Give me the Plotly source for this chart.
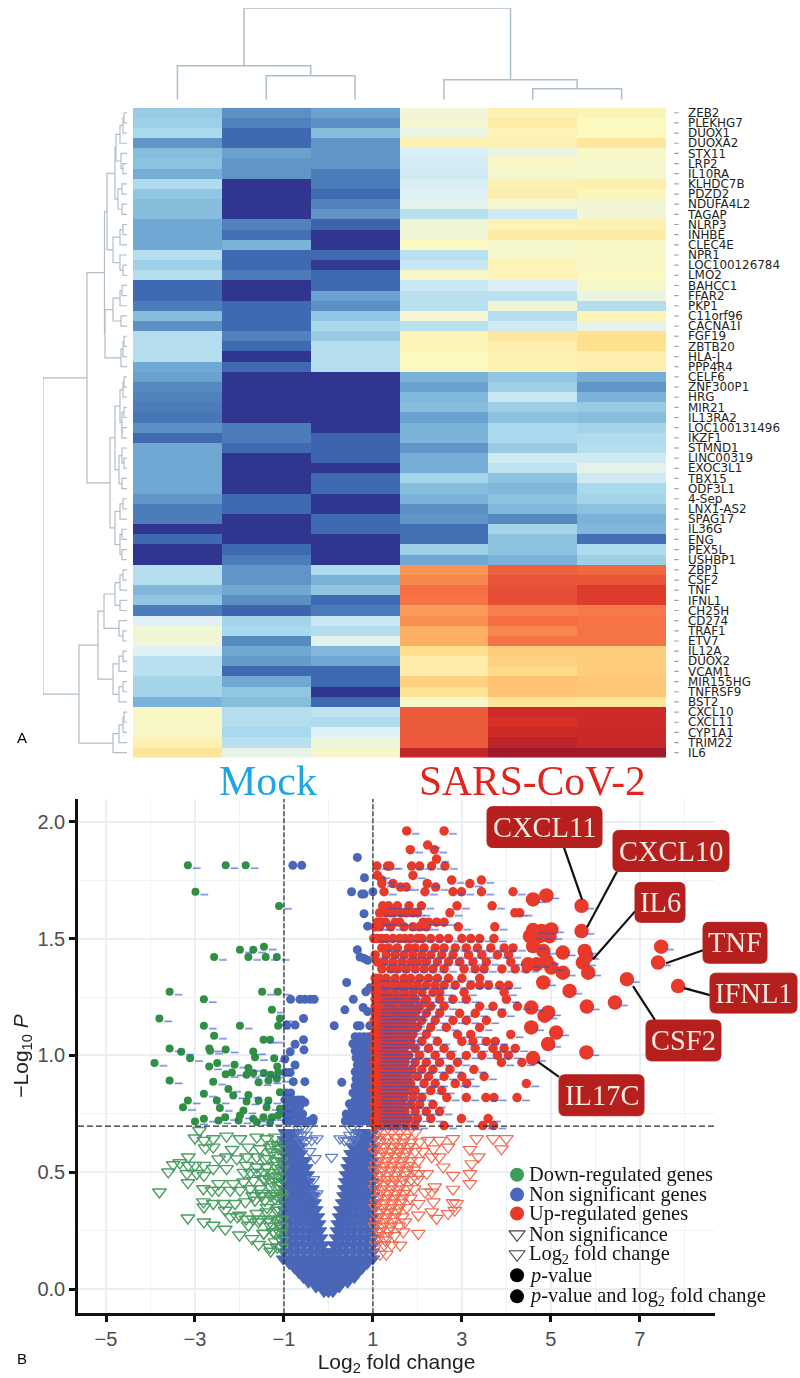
import plotly.graph_objects as go

# ---------- heatmap data ----------
GENES = ["ZEB2","PLEKHG7","DUOX1","DUOXA2","STX11","LRP2","IL10RA","KLHDC7B","PDZD2","NDUFA4L2","TAGAP","NLRP3","INHBE","CLEC4E","NPR1","LOC100126784","LMO2","BAHCC1","FFAR2","PKP1","C11orf96","CACNA1I","FGF19","ZBTB20","HLA-J","PPP4R4","CELF6","ZNF300P1","HRG","MIR21","IL13RA2","LOC100131496","IKZF1","STMND1","LINC00319","EXOC3L1","TBX15","ODF3L1","4-Sep","LNX1-AS2","SPAG17","IL36G","ENG","PEX5L","USHBP1","ZBP1","CSF2","TNF","IFNL1","CH25H","CD274","TRAF1","ETV7","IL12A","DUOX2","VCAM1","MIR155HG","TNFRSF9","BST2","CXCL10","CXCL11","CYP1A1","TRIM22","IL6"]
MOCK1 = [2.7,2.8,3.0,1.7,2.4,2.5,2.1,3.1,2.6,2.4,2.4,2.0,2.0,2.0,3.2,2.8,3.2,1.0,1.0,1.3,2.4,1.6,3.2,3.2,3.2,2.0,1.9,1.5,1.4,1.3,1.2,1.6,1.0,2.0,2.0,2.0,2.0,2.0,1.7,1.3,1.3,0,1.0,0,0,3.2,3.2,2.3,2.6,1.3,4.0,4.6,4.6,4.0,3.3,3.3,2.9,2.9,2.2,4.9,4.9,4.9,5.3,5.8]
MOCK2 = [1.6,1.4,1.0,1.0,1.9,1.7,1.7,0,0,0,0,1.4,1.1,2.2,1.0,1.0,1.3,0,0,1.0,1.0,1.0,1.4,1.0,0,1.0,0,0,0,0,0,1.3,1.3,1.0,0,0,0,0,1.0,1.0,0,0,0,1.0,1.3,1.7,1.7,2.0,1.6,0.9,2.9,3.0,1.5,2.0,1.8,1.0,2.0,2.6,2.4,3.2,3.2,3.0,3.3,4.3]
MOCK3 = [1.9,1.6,2.4,1.7,1.7,1.7,1.3,1.3,1.0,1.4,1.7,0.9,0,0,1.0,0.1,1.0,1.0,1.9,1.6,2.6,3.0,2.7,3.2,3.2,3.2,0,0,0,0,0,0,0.9,0.9,0.9,0,1.0,1.0,0,0,1.0,1.0,0,0,0,3.1,2.2,2.6,1.0,1.3,3.6,3.2,4.1,2.3,2.0,1.0,1.0,0,1.0,3.4,3.1,4.0,4.5,4.8]
SARS1 = [4.6,4.7,4.4,5.3,3.9,3.8,3.7,3.9,4.0,4.2,3.3,4.6,4.6,5.0,3.3,3.6,4.8,3.6,3.3,3.3,4.7,3.3,5.2,5.2,5.0,5.0,2.2,1.9,2.3,2.4,1.9,2.2,2.2,1.7,2.1,2.1,2.9,2.4,2.2,1.6,1.7,1.1,1.1,2.8,2.0,7.4,7.6,8.0,7.9,7.3,7.5,7.0,7.0,6.0,5.5,5.5,6.3,5.9,4.8,8.3,8.3,8.3,8.3,9.4]
SARS2 = [5.3,5.5,5.2,5.3,4.4,4.9,4.7,5.3,5.4,4.7,3.7,5.2,5.6,4.8,4.8,5.2,5.2,3.9,3.3,4.6,3.2,3.7,5.7,5.4,5.3,5.3,2.6,2.8,3.6,2.8,2.5,3.0,3.0,2.7,3.7,3.4,2.5,2.3,2.5,2.3,1.5,2.9,2.5,2.5,2.2,8.2,8.4,8.5,8.5,7.7,8.0,7.6,7.9,6.4,6.3,6.1,6.6,6.6,5.8,9.2,9.0,9.2,9.5,10]
SARS3 = [5.2,5.0,5.0,5.7,4.9,4.8,4.8,5.4,5.1,4.6,4.7,5.3,5.6,4.9,4.9,4.9,5.0,4.8,4.4,3.2,5.2,4.3,6.0,6.0,5.4,5.4,2.1,1.7,2.2,2.7,2.4,2.9,3.1,3.2,3.7,4.2,3.7,3.0,2.9,2.5,2.2,2.3,1.1,3.1,2.8,8.1,8.4,8.8,8.8,7.8,7.9,7.9,7.9,6.4,6.4,6.4,6.5,6.5,5.8,9.2,9.2,9.3,9.3,10]

# dendrograms: (merge height, left child, right child); a plain int is a leaf
COL_TREE = (92, (34, 0, (24, 1, 2)), (20, 3, (11, 4, 5)))
_r0_6 = (11, (7, (4, (3, 0, 1), 2), 3), (6, 4, (4, 5, 6)))
_r0_10 = (12, _r0_6, (9, (5, 7, 8), (5, 9, 10)))
_r11_16 = (14, (7, (4, 11, 12), 13), (7, 14, (4, 15, 16)))
_r0_16 = (20, _r0_10, _r11_16)
_r17_25 = (22, (14, (7, (5, 17, 18), 19), (6, 20, 21)), (6, (4, (3, 22, 23), 24), 25))
_r26_37 = (12, (7, (4, (3, 26, 27), 28), (5, (3, 29, 30), (5, 31, 32))), (8, (5, 33, (3, 34, 35)), (5, 36, 37)))
_r38_44 = (12, (7, (4, 38, 39), 40), (7, (5, 41, 42), (5, 43, 44)))
_r45_52 = (23, (12, (7, (4, 45, 46), 47), (7, 48, 49)), (8, 50, (4, 51, 52)))
_r53_58 = (14, (8, (4, 53, 54), 55), (8, (4, 56, 57), 58))
_r59_63 = (14, (8, (4, (3, 59, 60), 61), 62), 63)
ROW_TREE = (84, (40, (22.5, _r0_16, _r17_25), (17, _r26_37, _r38_44)), (48, (29, _r45_52, _r53_58), _r59_63))

# ---------- volcano data (-log10 P : log2 FC values on that level) ----------
UP_SIG = [
 (1.96,[1.76,2.60]),(1.90,[2.23]),(1.88,[1.84,2.38]),(1.84,[2.43]),(1.81,[1.09,1.33,1.38,1.87,2.05,2.32,2.62]),
 (1.77,[1.10,1.90]),(1.75,[1.20,2.77,3.44]),(1.735,[1.20,1.45,2.22,3.18]),(1.72,[1.62,1.75,2.41]),
 (1.70,[1.25,2.17,2.80,2.99,3.44,4.15]),(1.64,[1.22,1.35,1.55,1.81,2.09,2.89,3.68]),
 (1.61,[1.15,1.30,1.38,1.45,1.64,1.75,1.90,2.00,2.73,4.19,4.30]),
 (1.57,[1.10,1.20,1.28,1.50,1.60,2.13,2.25,2.43,2.60]),(1.55,[1.05,1.15,1.40,1.70,1.90,2.05,2.20,2.92,3.74]),
 (1.50,[1.02,1.10,1.20,1.30,1.45,1.60,1.72,1.85,2.00,2.10,2.30,2.50,2.70,3.00,3.20,3.40,3.72]),
 (1.46,[1.20,1.35,1.55,1.80,1.95,2.15,2.40,2.60,2.85,3.10,3.35,3.65,3.95,4.15]),
 (1.43,[1.05,1.30,1.50,1.70,1.90,2.10,2.30,2.55,2.80,3.15,3.45,3.80,4.05]),
 (1.40,[1.10,1.25,1.45,1.65,1.85,2.00,2.20,2.45,2.70,2.95,3.25,3.55,4.10]),
 (1.37,[1.20,1.40,1.55,1.75,1.95,2.15,2.35,2.60,3.05,3.30,3.50,3.90,4.20,4.45]),
 (1.33,[1.05,1.15,1.30,1.50,1.70,1.85,2.05,2.25,2.45,2.70,3.00,3.40]),
 (1.30,[1.05,1.25,1.40,1.60,1.80,2.00,2.20,2.40,2.60,2.85,3.20,3.40,3.60,3.85,4.05]),
 (1.27,[1.05,1.15,1.30,1.50,1.70,1.90,2.10,2.35,2.50,3.05,3.95]),
 (1.24,[1.05,1.20,1.35,1.45,1.60,1.75,1.95,2.20,2.50,2.80,3.10,4.00]),
 (1.21,[1.05,1.15,1.30,1.40,1.55,1.70,1.85,2.05,2.30,2.60,3.40,3.70,4.25]),
 (1.18,[1.05,1.12,1.20,1.30,1.42,1.55,1.70,1.90,2.20,2.50,2.95,3.30,3.90]),
 (1.15,[1.03,1.10,1.18,1.26,1.35,1.50,1.62,1.80,2.10,2.40,2.80,3.10,3.55]),
 (1.12,[1.05,1.13,1.22,1.32,1.45,1.60,1.75,2.00,2.30,2.65,3.40]),
 (1.09,[1.03,1.10,1.18,1.28,1.40,1.52,1.68,1.90,2.20,2.90,3.20,4.10]),
 (1.06,[1.05,1.14,1.25,1.38,1.50,1.65,1.85,2.10,2.45,3.00,3.25,3.55,3.75]),
 (1.03,[1.03,1.10,1.20,1.30,1.42,1.55,1.70,1.95,2.25,2.60,3.30,3.70,3.95,4.20]),
 (1.00,[1.05,1.15,1.25,1.35,1.50,1.62,1.80,2.05,2.40,2.75,3.10,3.45,3.80,4.05]),
 (0.97,[1.03,1.10,1.20,1.32,1.45,1.58,1.72,1.95,2.20,2.50,2.90,3.89,4.35]),
 (0.94,[1.05,1.15,1.28,1.40,1.55,1.70,1.88,2.10,2.35,2.73,3.27]),
 (0.91,[1.03,1.12,1.22,1.35,1.48,1.62,1.80,2.00,2.25,2.60,3.00,3.50]),
 (0.88,[1.05,1.15,1.25,1.38,1.52,1.68,1.85,2.15,2.40,2.85,3.11,4.45]),
 (0.85,[1.03,1.10,1.20,1.32,1.45,1.60,1.78,1.95,2.30,2.55]),
 (0.82,[1.05,1.15,1.28,1.42,1.55,1.70,1.90,2.10,2.66,3.10,3.54,3.72,4.24]),
 (0.79,[1.03,1.12,1.25,1.38,1.50,1.65,1.85,2.05,2.35]),
 (0.76,[1.05,1.15,1.30,1.42,1.58,1.72,1.95,2.20,2.50]),
 (0.73,[1.03,1.12,1.22,1.35,1.50,1.65,1.80,2.00,2.30,2.99,3.59]),
 (0.70,[1.05,1.20,1.40,1.55,1.75,1.95,2.60,3.47,3.71]),
 (1.295,[1.10,1.35,1.52,1.72,1.95]),(1.255,[1.10,1.28,1.42,1.65,1.82]),(1.225,[1.12,1.25,1.48,1.62,1.80,2.15]),
 (1.195,[1.08,1.25,1.35,1.48,1.62,1.78,2.00]),(1.165,[1.07,1.22,1.32,1.42,1.56,1.72,1.95]),
 (1.135,[1.08,1.17,1.27,1.38,1.52,1.68,1.88]),(1.105,[1.06,1.15,1.24,1.35,1.48,1.60,1.80]),
 (1.075,[1.08,1.20,1.32,1.44,1.58,1.75]),(1.045,[1.07,1.16,1.27,1.36,1.48,1.62,1.78]),
 (1.015,[1.08,1.18,1.27,1.38,1.50,1.65]),(0.985,[1.07,1.16,1.28,1.40,1.52,1.66]),(0.955,[1.08,1.20,1.34,1.48,1.62]),
 (0.925,[1.08,1.17,1.30,1.42,1.56]),(0.895,[1.08,1.20,1.32,1.45,1.60]),(0.865,[1.07,1.15,1.27,1.38,1.52]),
 (0.835,[1.08,1.20,1.35,1.48]),(0.805,[1.08,1.18,1.32,1.45,1.60]),(0.775,[1.08,1.20,1.35,1.50]),
 (0.745,[1.08,1.18,1.28,1.45,1.58]),(0.715,[1.10,1.25,1.35,1.48]),
]
UP_BIG_X = [4.60,4.90,5.69,4.60,4.79,5.01,5.69,4.53,4.75,4.97,4.60,4.83,5.27,5.76,5.80,5.72,4.49,4.68,4.90,5.01,5.27,5.84,4.83,5.42,5.81,6.44,6.71,7.48,7.41,7.86,4.56,4.94,4.56,4.86,5.12,4.94,5.80,4.60]
UP_BIG_Y = [1.667,1.684,1.64,1.536,1.532,1.539,1.532,1.51,1.51,1.51,1.468,1.447,1.44,1.447,1.425,1.397,1.39,1.39,1.404,1.376,1.354,1.354,1.312,1.276,1.209,1.226,1.326,1.465,1.397,1.297,1.205,1.184,1.12,1.17,1.098,1.049,1.013,0.989]

DOWN_SIG_X = [-3.16,-2.31,-1.86,-2.99,-1.11,-1.99,-1.69,-1.45,-1.41,-1.80,-2.57,-1.16,-3.57,-1.49,-1.14,-2.80,-1.27,-3.80,-1.09,-2.80,-1.99,-1.13,-2.57,-1.46,-1.31,-3.57,-3.31,-2.68,-2.66,-2.31,-1.69,-1.65,-1.22,-3.11,-3.91,-2.68,-2.50,-2.11,-1.80,-1.15,-2.31,-2.17,-1.84,-1.69,-1.45,-1.30,-1.13,-3.57,-2.59,-1.57,-1.35,-1.16,-2.25,-2.80,-2.51,-2.14,-1.80,-1.84,-1.57,-1.35,-1.09,-3.16,-3.27,-2.44,-1.39,-1.09,-1.91,-1.99,-2.32,-2.47,-2.80,-3.00,-2.02,-1.69,-1.46,-1.27,-1.13,-1.61,-1.31]
DOWN_SIG_Y = [1.813,1.813,1.813,1.70,1.639,1.452,1.452,1.465,1.421,1.421,1.421,1.421,1.272,1.272,1.272,1.24,1.195,1.158,1.158,1.127,1.127,1.127,1.084,1.067,1.067,1.03,1.016,1.03,1.02,1.025,1.017,0.992,0.988,0.988,0.968,0.953,0.968,0.96,0.946,0.953,0.92,0.927,0.918,0.925,0.925,0.918,0.927,0.893,0.888,0.885,0.893,0.90,0.857,0.836,0.807,0.829,0.831,0.803,0.807,0.807,0.843,0.807,0.779,0.775,0.779,0.772,0.765,0.743,0.736,0.722,0.729,0.718,0.722,0.729,0.736,0.736,0.743,0.715,0.715]

NS_SIG_X = [-0.80,-0.60,0.65,0.81,0.52,0.75,0.80,1.0,0.80,0.88,0.65,0.71,0.80,0.88,0.41,0.93,0.84,0.56,-0.85,-0.64,-0.53,-0.41,-0.32,0.37,0.78,0.88,-0.56,-0.94,-0.75,0.13,0.65,0.71,0.93,1.0,-0.56,-0.75,-0.55,-0.86,-0.98,-0.75,-0.97,-0.86,-0.79,-0.53,0.30,0.47,-0.53,-0.34,0.41]
NS_SIG_Y = [1.813,1.813,1.847,1.76,1.70,1.69,1.69,1.70,1.606,1.553,1.452,1.421,1.415,1.407,1.312,1.29,1.272,1.24,1.24,1.24,1.24,1.24,1.24,1.195,1.205,1.188,1.158,1.13,1.13,1.127,1.127,1.127,1.127,1.127,1.067,1.048,1.024,1.016,0.985,0.959,0.927,0.927,0.888,0.888,0.885,0.793,0.80,0.73,0.73]
NS_SIG_ROWS = [
 (1.08,[0.60,0.70,0.80,0.90]),(1.05,[0.55,0.65,0.75,0.85,0.95]),(1.02,[0.60,0.70,0.80,0.90,0.98]),
 (0.99,[0.62,0.72,0.82,0.92]),(0.96,[0.65,0.75,0.85,0.95]),(0.93,[0.60,0.70,0.80,0.90,0.98]),
 (0.90,[0.62,0.72,0.82,0.92]),(0.87,[0.60,0.68,0.78,0.88,0.98]),(0.84,[-0.95,-0.85,0.55,0.65,0.75,0.85,0.95]),
 (0.81,[-0.98,-0.88,-0.78,-0.68,-0.60,0.60,0.70,0.80,0.90]),(0.78,[-0.95,-0.85,-0.75,-0.65,0.52,0.62,0.72,0.82,0.92]),
 (0.75,[-0.98,-0.88,-0.78,-0.68,-0.58,0.40,0.50,0.60,0.70,0.80,0.90,0.98]),
 (0.72,[-0.95,-0.85,-0.75,-0.65,-0.55,-0.42,-0.35,0.38,0.48,0.58,0.68,0.78,0.88,0.98]),
]
NS_DENSE = [
 (-0.01,[-0.10,0.0,0.10]),(0.01,[-0.28,-0.15,-0.03,0.10,0.24]),(0.03,[-0.45,-0.30,-0.15,0.0,0.15,0.30,0.43]),
 (0.05,[-0.56,-0.42,-0.27,-0.12,0.02,0.17,0.32,0.46,0.58]),(0.07,[-0.66,-0.52,-0.37,-0.22,-0.08,0.08,0.23,0.38,0.52,0.66]),
 (0.09,[-0.76,-0.62,-0.48,-0.33,-0.18,-0.04,0.10,0.25,0.40,0.55,0.68,0.76]),
 (0.11,[-0.88,-0.76,-0.60,-0.45,-0.30,-0.15,0.0,0.15,0.30,0.45,0.60,0.74,0.87]),
 (0.13,[-1.02,-0.90,-0.75,-0.60,-0.45,-0.30,-0.15,0.0,0.15,0.30,0.45,0.60,0.75,0.88,1.0]),
 (0.16,[-1.0,-0.85,-0.70,-0.55,-0.40,-0.25,-0.12,0.0,0.12,0.25,0.40,0.55,0.70,0.85,1.0]),
 (0.19,[-1.0,-0.85,-0.70,-0.55,-0.40,-0.25,-0.12,0.12,0.25,0.40,0.55,0.70,0.85,1.0]),
 (0.22,[-1.0,-0.86,-0.72,-0.58,-0.44,-0.30,-0.17,0.17,0.30,0.44,0.58,0.72,0.86,1.0]),
 (0.25,[-1.0,-0.86,-0.72,-0.58,-0.44,-0.30,-0.19,0.19,0.30,0.44,0.58,0.72,0.86,1.0]),
 (0.28,[-1.0,-0.86,-0.72,-0.58,-0.44,-0.31,-0.21,0.21,0.31,0.44,0.58,0.72,0.86,1.0]),
 (0.31,[-1.0,-0.87,-0.74,-0.61,-0.48,-0.35,-0.24,0.24,0.35,0.48,0.61,0.74,0.87,1.0]),
 (0.34,[-1.0,-0.87,-0.74,-0.61,-0.48,-0.36,-0.28,0.27,0.36,0.48,0.61,0.74,0.87,1.0]),
 (0.37,[-1.0,-0.87,-0.74,-0.61,-0.48,-0.37,-0.31,0.31,0.37,0.48,0.61,0.74,0.87,1.0]),
 (0.40,[-1.0,-0.88,-0.76,-0.64,-0.52,-0.42,-0.34,0.34,0.42,0.52,0.64,0.76,0.88,1.0]),
 (0.43,[-1.0,-0.88,-0.76,-0.64,-0.52,-0.43,-0.36,0.36,0.43,0.52,0.64,0.76,0.88,1.0]),
 (0.46,[-1.0,-0.88,-0.76,-0.64,-0.54,-0.45,0.38,0.45,0.54,0.64,0.76,0.88,1.0]),
 (0.49,[-1.0,-0.88,-0.76,-0.65,-0.56,-0.47,0.40,0.47,0.56,0.65,0.76,0.88,1.0]),
 (0.52,[-1.0,-0.89,-0.78,-0.68,-0.59,-0.50,0.43,0.50,0.59,0.68,0.78,0.89,1.0]),
 (0.55,[-1.0,-0.89,-0.78,-0.68,-0.60,-0.53,0.46,0.54,0.62,0.70,0.79,0.89,1.0]),
 (0.58,[-1.0,-0.90,-0.80,-0.71,-0.62,0.50,0.58,0.66,0.74,0.82,0.91,1.0]),
 (0.61,[-1.0,-0.90,-0.80,-0.72,-0.64,0.54,0.62,0.70,0.78,0.86,0.94,1.0]),
 (0.64,[-1.0,-0.91,-0.82,-0.74,-0.66,0.60,0.68,0.76,0.84,0.92,1.0]),
 (0.67,[-0.98,-0.90,-0.82,-0.74,0.68,0.76,0.84,0.92,1.0]),
]
NS_TOP_X = [-0.66,-0.58,-0.50,-0.38,-0.26,0.26,0.36,0.50,0.58,-0.60,-0.50,0.48,0.60,-0.62,-0.50,-0.30,0.07,-0.26,-0.42,-0.34,0.44,0.56]
NS_TOP_Y = [0.685,0.685,0.685,0.637,0.644,0.644,0.637,0.685,0.685,0.66,0.66,0.66,0.66,0.635,0.635,0.56,0.565,0.409,0.59,0.47,0.635,0.635]

DOWN_NS_X = [-2.9,-3.0,-2.8,-2.59,-2.29,-1.99,-1.61,-1.39,-1.2,-2.77,-2.59,-2.17,-1.8,-1.54,-1.31,-1.13,-3.15,-3.49,-3.6,-3.34,-3.15,-3.0,-2.8,-2.59,-2.47,-2.29,-2.06,-1.84,-1.61,-1.43,-1.27,-1.13,-3.18,-2.96,-2.8,-2.29,-1.84,-1.61,-1.39,-1.2,-1.05,-3.16,-2.47,-2.14,-1.91,-1.69,-1.46,-1.27,-1.13,-3.8,-2.81,-2.62,-2.47,-2.21,-1.99,-1.76,-1.54,-1.31,-1.13,-2.81,-2.59,-2.36,-2.1,-1.87,-1.65,-1.43,-1.2,-1.05,-2.8,-2.32,-2.0,-1.61,-1.39,-1.16,-3.16,-2.8,-2.59,-2.32,-1.8,-1.57,-1.31,-1.13,-2.0,-1.72,-1.46,-1.24,-1.05,-1.57,-1.3,-1.2,-1.05,-1.7,-1.5,-1.3,-1.15,-1.9,-1.75,-1.6,-1.45,-1.25,-1.1,-2.2,-2.05,-1.85,-1.7,-1.55,-1.35,-1.2,-1.05,-1.25,-1.12,-1.35,-1.18,-1.06,-1.42,-1.28,-1.1,-1.5,-1.22,-1.08,-1.38,-1.14,-1.3,-1.07,-1.45,-1.2,-1.08,-1.32,-1.15,-1.06]
DOWN_NS_Y = [0.679,0.647,0.637,0.644,0.655,0.644,0.651,0.644,0.651,0.604,0.608,0.598,0.608,0.601,0.608,0.615,0.566,0.533,0.502,0.541,0.53,0.53,0.53,0.516,0.558,0.566,0.558,0.566,0.566,0.558,0.587,0.573,0.495,0.495,0.487,0.516,0.53,0.523,0.523,0.53,0.516,0.456,0.452,0.452,0.459,0.466,0.473,0.48,0.487,0.416,0.43,0.423,0.423,0.423,0.423,0.43,0.43,0.438,0.445,0.374,0.367,0.367,0.367,0.374,0.381,0.381,0.388,0.395,0.352,0.338,0.317,0.324,0.331,0.338,0.305,0.288,0.274,0.257,0.274,0.288,0.288,0.295,0.232,0.217,0.239,0.246,0.26,0.192,0.163,0.203,0.21,0.40,0.40,0.40,0.40,0.50,0.50,0.50,0.50,0.50,0.50,0.31,0.31,0.30,0.30,0.30,0.30,0.30,0.30,0.62,0.60,0.56,0.55,0.55,0.47,0.46,0.46,0.41,0.41,0.41,0.35,0.35,0.27,0.27,0.24,0.24,0.24,0.18,0.18,0.18]

UP_NS_X = [2.8,3.33,3.70,4.0,3.89,3.18,2.69,2.36,2.5,2.24,3.37,3.22,2.32,2.58,2.49,2.8,3.18,3.18,2.21,2.02,2.8,2.39,2.32,2.17,2.88,2.8,2.36,2.02,2.69,2.84,2.43,2.32,2.02,2.02,1.72,1.68,1.61]
UP_NS_Y = [0.644,0.644,0.644,0.644,0.601,0.598,0.608,0.601,0.637,0.637,0.566,0.537,0.566,0.523,0.566,0.487,0.495,0.452,0.495,0.495,0.428,0.438,0.416,0.416,0.367,0.371,0.374,0.367,0.324,0.338,0.303,0.331,0.317,0.239,0.288,0.246,0.189]
UP_NS_ROWS = [
 (0.67,[1.08,1.25,1.42,1.60,1.78,1.95]),(0.63,[1.15,1.32,1.50,1.68,1.85,2.05]),(0.59,[1.05,1.22,1.40,1.58,1.76,1.95,2.12]),
 (0.55,[1.12,1.30,1.48,1.66,1.84,2.02]),(0.51,[1.05,1.22,1.40,1.58,1.76,1.92]),(0.47,[1.14,1.32,1.50,1.68,1.86,2.0]),
 (0.43,[1.05,1.22,1.40,1.58,1.76,1.92]),(0.39,[1.12,1.30,1.48,1.66,1.84]),(0.35,[1.05,1.22,1.40,1.58,1.76]),
 (0.31,[1.12,1.30,1.48,1.66]),(0.27,[1.05,1.22,1.40,1.58]),(0.23,[1.12,1.30,1.48]),(0.19,[1.08,1.25,1.42]),(0.15,[1.16,1.30]),
 (0.65,[1.12,1.30,1.52,1.72]),(0.61,[1.08,1.26,1.46,1.62,1.80]),(0.57,[1.16,1.34,1.52,1.70]),(0.53,[1.08,1.26,1.44,1.62,1.80]),
 (0.49,[1.16,1.34,1.52,1.72]),(0.45,[1.08,1.26,1.44,1.62]),(0.41,[1.16,1.34,1.52,1.70]),(0.37,[1.08,1.26,1.44,1.62]),
 (0.33,[1.16,1.34,1.52]),(0.29,[1.08,1.26,1.44]),(0.25,[1.16,1.34]),(0.21,[1.10,1.28]),
]

LEGEND_LABELS = ["Down-regulated genes","Non significant genes","Up-regulated genes","Non significance",
                 "Log<sub>2</sub> fold change","<i>p</i>-value","<i>p</i>-value and log<sub>2</sub> fold change"]
CALLOUTS = ["CXCL11","CXCL10","IL6","TNF","IFNL1","CSF2","IL17C"]

# ---------- helpers ----------
W, H = 800, 1378
def px(v): return v / W
def py(v): return 1 - v / H
def flat(rows):
    xs, ys = [], []
    for y, vals in rows:
        for v in vals:
            xs.append(v); ys.append(y)
    return xs, ys
def tree_lines(node, a, b):
    if not isinstance(node, tuple):
        return float(node), 0.0
    h, l, r = node
    pl, hl = tree_lines(l, a, b)
    pr, hr = tree_lines(r, a, b)
    a += [pl, pl, pr, pr, None]
    b += [hl, h, h, hr, None]
    return (pl + pr) / 2, h

fig = go.Figure()
SCALE = ["#30358f","#3f69b0","#6fa8d2","#a9d9ec","#dff1f6","#fbf8c0","#fee08f","#fdae61","#f46d43","#d73027","#a0182a"]

# heatmap
z = [list(r) for r in zip(MOCK1, MOCK2, MOCK3, SARS1, SARS2, SARS3)]
fig.add_trace(go.Heatmap(z=z, x=list(range(6)), y=list(range(len(GENES))), zmin=0, zmax=10, showscale=False,
                         colorscale=[[i / 10, c] for i, c in enumerate(SCALE)], xaxis="x", yaxis="y", xgap=0, ygap=0))
# little ticks beside the gene names, in their own narrow axis
fig.add_trace(go.Scatter(x=[0.5] * len(GENES), y=list(range(len(GENES))), mode="markers",
                         marker=dict(symbol="line-ew", size=3.2, line=dict(color="#9aa5ad", width=1.2)),
                         xaxis="x5", yaxis="y3", hoverinfo="skip"))
# dendrograms
cx, ch = [], []
tree_lines(COL_TREE, cx, ch)
fig.add_trace(go.Scatter(x=cx, y=ch, mode="lines", line=dict(color="#aebfca", width=1.5), xaxis="x2", yaxis="y2", hoverinfo="skip"))
rp, rh = [], []
tree_lines(ROW_TREE, rp, rh)
fig.add_trace(go.Scatter(x=rh, y=rp, mode="lines", line=dict(color="#b3bec6", width=1.2), xaxis="x3", yaxis="y3", hoverinfo="skip"))

# volcano
GREEN, BLUE, RED = "#2f8f45", "#4a66b8", "#e8392b"
def vol(x, y, symbol, color, size, lw=0, op=1.0, line=None):
    fig.add_trace(go.Scatter(x=x, y=y, mode="markers", xaxis="x4", yaxis="y4", hoverinfo="skip", opacity=op,
                             marker=dict(symbol=symbol, size=size, color=color, line=dict(color=line or color, width=lw))))
dx, dy = flat(NS_DENSE)
vol(dx, dy, "triangle-down", BLUE, 12, 1)
vol(NS_TOP_X, NS_TOP_Y, "triangle-down-open", "#5f7cc8", 11, 1.2)
vol(DOWN_NS_X, DOWN_NS_Y, "triangle-down-open", "#4c9f63", 12, 1.4)
ux, uy = flat(UP_NS_ROWS)
vol(UP_NS_X + ux, UP_NS_Y + uy, "triangle-down-open", "#f2694f", 12, 1.2)
sx, sy = flat(NS_SIG_ROWS)
vol(NS_SIG_X + sx, NS_SIG_Y + sy, "circle", BLUE, 9)
vol(DOWN_SIG_X, DOWN_SIG_Y, "circle", GREEN, 8)
rx, ry = flat(UP_SIG)
vol(rx, ry, "circle", RED, 9.5)
vol(UP_BIG_X, UP_BIG_Y, "circle", RED, 14.5)
# the tiny (illegible) gene labels that sit beside every significant point
lx = [v + 0.2 for v in rx + DOWN_SIG_X + UP_BIG_X]
ly = [v - 0.012 for v in ry + DOWN_SIG_Y + UP_BIG_Y]
fig.add_trace(go.Scatter(x=lx, y=ly, mode="markers", xaxis="x4", yaxis="y4", hoverinfo="skip", opacity=0.9,
                         marker=dict(symbol="line-ew", size=5.5, line=dict(color="#2f55c8", width=1.2))))
# thresholds
TH_COL = "#2a2a2a"
fig.add_trace(go.Scatter(x=[-5.63, 8.69], y=[0.698, 0.698], mode="lines", xaxis="x4", yaxis="y4", hoverinfo="skip",
                         line=dict(color=TH_COL, width=1.1, dash="6px,3px")))
for v in (-1, 1):
    fig.add_trace(go.Scatter(x=[v, v], y=[-0.102, 2.098], mode="lines", xaxis="x4", yaxis="y4", hoverinfo="skip",
                             line=dict(color=TH_COL, width=1.2, dash="5px,2px")))

# legend glyphs (data coords inside the plot area)
LG_X = 4.24
LG_Y = [0.49, 0.405, 0.324, 0.235, 0.15, 0.06, -0.03]
LG_SYM = ["circle","circle","circle","triangle-down-open","triangle-down-open","circle","circle"]
LG_COL = ["#3c9f55", "#4a66c0", "#e8392b", "#444444", "#444444", "#000000", "#000000"]
for yy, sym, col in zip(LG_Y, LG_SYM, LG_COL):
    vol([LG_X], [yy], sym, col, 14, 1.1 if "open" in sym else 0)

anns = []
for t, x0, y0 in zip(LEGEND_LABELS, [526.5] * 7, [1176, 1196, 1215, 1236, 1256, 1277, 1298]):
    anns.append(dict(text=t, x=px(x0), y=py(y0), xref="paper", yref="paper", xanchor="left", yanchor="middle", showarrow=False,
                     font=dict(family="Liberation Serif", size=20.4, color="#151515")))
anns.append(dict(text="Mock", x=px(268), y=py(781), xref="paper", yref="paper", xanchor="center", yanchor="middle", showarrow=False,
                 font=dict(family="Liberation Serif", size=42, color="#1ea6e2")))
anns.append(dict(text="SARS-CoV-2", x=px(532), y=py(781), xref="paper", yref="paper", xanchor="center", yanchor="middle", showarrow=False,
                 font=dict(family="Liberation Serif", size=41.5, color="#e0241f")))
for t, x0, y0 in (("A", 22, 738), ("B", 22, 1360)):
    anns.append(dict(text=t, x=px(x0), y=py(y0), xref="paper", yref="paper", xanchor="center", yanchor="middle", showarrow=False,
                     font=dict(family="Liberation Sans", size=15, color="#000000")))

# call-out boxes: left, right, top, bottom in page pixels; connector from box edge to its point
BOXES = [(487,602,807,848),(613,729,831,872),(635,685,883,923),(703,767,923,964),(710,797,974,1014),(646,721,1021,1062),(559,644,1076,1117)]
LINKS = [(564,848,582,900),(617,872,587,928),(635,912,593,960),(703,951,666,964),(710,996,684,989),(655,1021,633,987),(559,1078,538,1063)]
shapes = []
for (x1, y1, x2, y2) in LINKS:
    shapes.append(dict(type="line", xref="paper", yref="paper", x0=px(x1), y0=py(y1), x1=px(x2), y1=py(y2),
                       line=dict(color="#111111", width=2.2)))
R = 6
for t, (l, r, top, b) in zip(CALLOUTS, BOXES):
    P = lambda a, c: f"{px(a):.5f},{py(c):.5f}"
    path = (f"M{P(l+R,top)} L{P(r-R,top)} Q{P(r,top)} {P(r,top+R)} L{P(r,b-R)} Q{P(r,b)} {P(r-R,b)} "
            f"L{P(l+R,b)} Q{P(l,b)} {P(l,b-R)} L{P(l,top+R)} Q{P(l,top)} {P(l+R,top)} Z")
    shapes.append(dict(type="path", xref="paper", yref="paper", path=path, fillcolor="#b5201f", line=dict(color="#b5201f", width=1)))
    anns.append(dict(text=t, x=px((l + r) / 2), y=py((top + b) / 2), xref="paper", yref="paper", xanchor="center", yanchor="middle", showarrow=False,
                     font=dict(family="Liberation Serif", size=28.5, color="#f7ebe0")))

HID = dict(visible=False, fixedrange=True)
fig.update_layout(
    width=W, height=H, margin=dict(l=0, r=0, t=0, b=0), paper_bgcolor="white", plot_bgcolor="rgba(0,0,0,0)",
    showlegend=False, annotations=anns, shapes=shapes,
    xaxis=dict(domain=[px(133), px(666)], range=[-0.5, 5.5], anchor="y", visible=False),
    yaxis=dict(domain=[py(758), py(106)], range=[63.5, -0.5], anchor="x", side="right", showgrid=False, zeroline=False, showline=False,
               tickmode="array", tickvals=list(range(len(GENES))), ticktext=GENES, ticks="", ticklabelstandoff=21,
               tickfont=dict(family="DejaVu Sans", size=11.9, color="#1e1e1e")),
    xaxis2=dict(domain=[px(133), px(666)], range=[-0.5, 5.5], anchor="y2", **HID),
    yaxis2=dict(domain=[py(98), py(6)], range=[0, 92], anchor="x2", **HID),
    xaxis3=dict(domain=[px(43), px(127)], range=[84, 0], anchor="y3", **HID),
    yaxis3=dict(domain=[py(758), py(106)], range=[63.5, -0.5], anchor="x3", **HID),
    xaxis5=dict(domain=[px(672), px(681)], range=[0, 1], anchor="y3", **HID),
    xaxis4=dict(domain=[px(78), px(715)], range=[-5.63, 8.69], anchor="y4", tickmode="array", tickvals=[-5, -3, -1, 1, 3, 5, 7],
                ticktext=["\u22125", "\u22123", "\u22121", "1", "3", "5", "7"], ticks="outside", ticklen=6, tickwidth=2.5, tickcolor="#111",
                showline=True, linecolor="#111", linewidth=2.5, zeroline=False, showgrid=True, gridcolor="#e8eff5", gridwidth=1.6,
                tickfont=dict(family="Liberation Sans", size=20, color="#4d4d4d"),
                title=dict(text="Log<sub>2</sub> fold change", standoff=4, font=dict(family="Liberation Sans", size=21, color="#222")),
                minor=dict(tickmode="array", tickvals=[-4, -2, 0, 2, 4, 6, 8], showgrid=True, gridcolor="#eef3f8", gridwidth=1, ticks="")),
    yaxis4=dict(domain=[py(1315), py(799)], range=[-0.102, 2.098], anchor="x4", tickmode="array", tickvals=[0, 0.5, 1, 1.5, 2],
                ticktext=["0.0", "0.5", "1.0", "1.5", "2.0"], ticks="outside", ticklen=6, tickwidth=2.5, tickcolor="#111",
                showline=True, linecolor="#111", linewidth=2.5, zeroline=False, showgrid=True, gridcolor="#e8eff5", gridwidth=2,
                tickfont=dict(family="Liberation Sans", size=20, color="#4d4d4d"),
                title=dict(text="\u2212Log<sub>10</sub> <i>P</i>", standoff=4, font=dict(family="Liberation Sans", size=21, color="#222")),
                minor=dict(tickmode="array", tickvals=[0.25, 0.75, 1.25, 1.75], showgrid=True, gridcolor="#eef3f8", gridwidth=1, ticks="")),
)
fig.write_html("out.html", post_script="document.body.style.margin='0';", config=dict(displayModeBar=False))
